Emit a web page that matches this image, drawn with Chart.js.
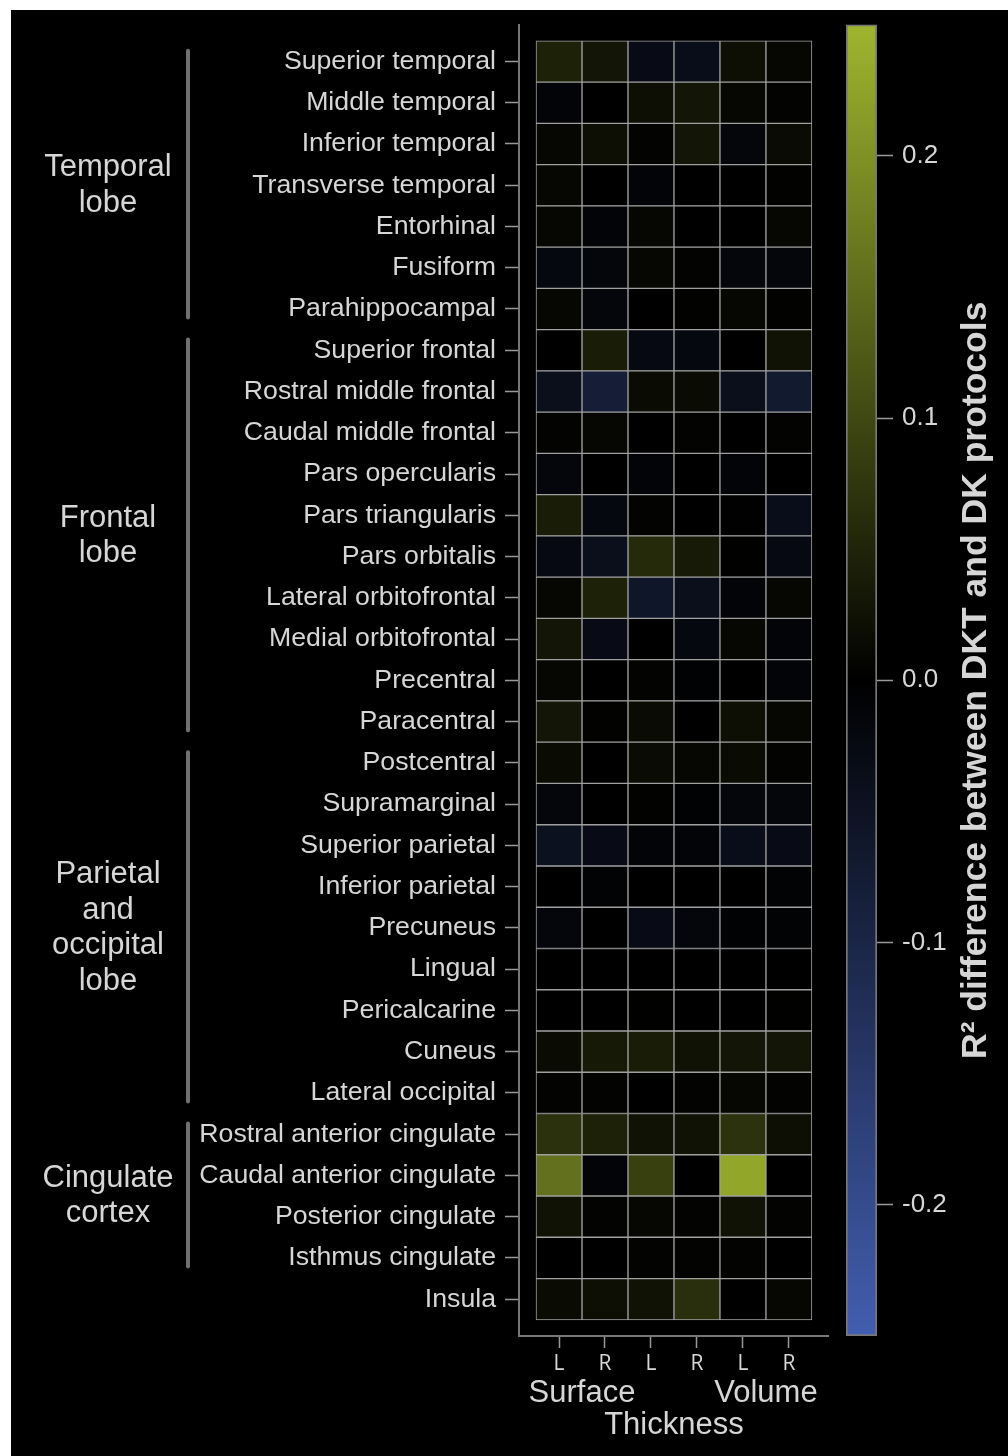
<!DOCTYPE html>
<html>
<head>
<meta charset="utf-8">
<title>R² difference between DKT and DK protocols</title>
<script src="https://cdn.jsdelivr.net/npm/chart.js@4.4.1/dist/chart.umd.min.js"></script>
<style>
  html, body { margin: 0; padding: 0; background: #fff; }
  #frame { position: absolute; left: 11px; top: 10px; width: 997px; height: 1446px; background: #000; }
  #heat { position: absolute; left: 0; top: 0; }
  #bar { position: absolute; left: 830px; top: 0; }
</style>
</head>
<body>
<div id="frame"></div>
<canvas id="heat" width="1008" height="1456"></canvas>
<canvas id="bar" width="178" height="1456"></canvas>
<script>
// Cortical regions, top to bottom
const regions = [
  'Superior temporal', 'Middle temporal', 'Inferior temporal', 'Transverse temporal',
  'Entorhinal', 'Fusiform', 'Parahippocampal',
  'Superior frontal', 'Rostral middle frontal', 'Caudal middle frontal', 'Pars opercularis',
  'Pars triangularis', 'Pars orbitalis', 'Lateral orbitofrontal', 'Medial orbitofrontal',
  'Precentral', 'Paracentral',
  'Postcentral', 'Supramarginal', 'Superior parietal', 'Inferior parietal', 'Precuneus',
  'Lingual', 'Pericalcarine', 'Cuneus', 'Lateral occipital',
  'Rostral anterior cingulate', 'Caudal anterior cingulate', 'Posterior cingulate',
  'Isthmus cingulate', 'Insula'
];

// Hemisphere columns and the measure each pair belongs to
const hemispheres = ['L', 'R', 'L', 'R', 'L', 'R'];
const measures = ['Surface', 'Thickness', 'Volume'];

// Lobe groupings (first and last region index)
const lobeNames = [['Temporal', 'lobe'], ['Frontal', 'lobe'], ['Parietal', 'and', 'occipital', 'lobe'], ['Cingulate', 'cortex']];
const lobeFirst = [0, 7, 17, 26];
const lobeLast = [6, 16, 25, 29];

// R² difference (DKT minus DK), one array per column
const surfaceL = [0.045, -0.01, 0.01, 0.01, 0.01, -0.02, 0.01, 0.0, -0.04, 0.005, -0.015, 0.04, -0.025, 0.01, 0.03, 0.01, 0.03, 0.015, -0.015, -0.045, 0.0, -0.015, 0.0, 0.0, 0.015, 0.005, 0.068, 0.155, 0.025, 0.0, 0.015];
const surfaceR = [0.03, 0.0, 0.02, 0.0, -0.01, -0.015, -0.015, 0.04, -0.078, 0.01, 0.0, -0.02, -0.04, 0.045, -0.03, 0.0, 0.003, 0.0, 0.0, -0.03, -0.007, 0.0, 0.0, 0.0, 0.035, 0.005, 0.045, -0.01, 0.005, 0.0, 0.02];
const thicknessL = [-0.03, 0.02, 0.005, -0.01, 0.01, 0.01, 0.0, -0.025, 0.015, 0.0, -0.01, 0.005, 0.058, -0.058, 0.0, 0.005, 0.015, 0.015, 0.003, -0.01, 0.0, -0.03, 0.0, 0.002, 0.04, 0.0, 0.025, 0.088, 0.01, 0.005, 0.025];
const thicknessR = [-0.035, 0.03, 0.03, 0.0, 0.0, 0.005, 0.003, -0.02, 0.015, 0.005, 0.0, 0.0, 0.036, -0.04, -0.02, -0.005, 0.0, 0.01, -0.005, -0.01, 0.0, -0.015, 0.0, 0.0, 0.025, 0.005, 0.025, 0.0, 0.005, 0.005, 0.064];
const volumeL = [0.02, 0.01, -0.015, 0.0, 0.0, -0.015, 0.01, 0.0, -0.04, 0.0, -0.01, -0.003, 0.002, -0.01, 0.01, 0.0, 0.02, 0.015, -0.015, -0.035, 0.0, -0.005, 0.0, 0.0, 0.03, 0.01, 0.069, 0.23, 0.025, 0.005, 0.0];
const volumeR = [0.01, 0.005, 0.015, 0.003, 0.01, -0.015, 0.003, 0.025, -0.068, 0.005, 0.0, -0.035, -0.025, 0.01, -0.01, -0.01, 0.01, 0.005, -0.015, -0.03, -0.007, -0.007, 0.0, 0.002, 0.03, 0.005, 0.02, 0.0, 0.005, 0.0, 0.01];

const columnValues = [surfaceL, surfaceR, thicknessL, thicknessR, volumeL, volumeR];

// Colour bar limits and ticks
const colorMin = -0.25;
const colorMax = 0.25;
const colorTicks = [0.2, 0.1, 0.0, -0.1, -0.2];

// Diverging map: blue -> black -> yellow-green
const POS_END = [159, 181, 46];
const NEG_END = [66, 94, 176];
function colorFor(v) {
  const t = Math.min(1, Math.abs(v) / colorMax);
  const e = v >= 0 ? POS_END : NEG_END;
  return 'rgb(' + Math.round(e[0] * t) + ',' + Math.round(e[1] * t) + ',' + Math.round(e[2] * t) + ')';
}

const FONT = '"Liberation Sans", Arial, Helvetica, sans-serif';
const TEXT = '#d6d6d6';
Chart.defaults.font.family = FONT;
Chart.defaults.color = TEXT;

// Lobe brackets, lobe names and measure captions
const annotations = {
  id: 'annotations',
  afterDraw(chart) {
    const { ctx, scales: { x, y }, chartArea } = chart;
    ctx.save();
    ctx.fillStyle = TEXT;
    ctx.textAlign = 'center';
    ctx.textBaseline = 'middle';
    for (let g = 0; g < lobeNames.length; g++) {
      const top = y.getPixelForValue(lobeFirst[g] - 0.5);
      const bottom = y.getPixelForValue(lobeLast[g] + 0.5);
      ctx.strokeStyle = '#707070';
      ctx.lineWidth = 4;
      ctx.lineCap = 'round';
      ctx.beginPath();
      ctx.moveTo(188, top + 10);
      ctx.lineTo(188, bottom - 12);
      ctx.stroke();
      const lines = lobeNames[g];
      const mid = (top + bottom) / 2;
      const lh = 35.7;
      ctx.font = '31px ' + FONT;
      lines.forEach((t, i) => {
        ctx.fillText(t, 108, mid + (i - (lines.length - 1) / 2) * lh);
      });
    }
    ctx.font = '31px ' + FONT;
    ctx.fillText(measures[0], x.getPixelForValue(1), chartArea.bottom + 57);
    ctx.fillText(measures[1], x.getPixelForValue(3), chartArea.bottom + 89);
    ctx.fillText(measures[2], x.getPixelForValue(5), chartArea.bottom + 57);
    ctx.restore();
  }
};

new Chart(document.getElementById('heat'), {
  type: 'bar',
  data: {
    datasets: columnValues.map((vals, c) => ({
      data: vals.map((v, r) => ({ x: [c, c + 1], y: r })),
      backgroundColor: vals.map(colorFor),
      borderColor: '#a0a0a0',
      borderWidth: 1,
      borderSkipped: false,
      barPercentage: 1,
      categoryPercentage: 1,
      grouped: false
    }))
  },
  options: {
    indexAxis: 'y',
    responsive: false,
    animation: false,
    devicePixelRatio: 1,
    layout: { padding: { left: 0, top: 25, right: 180, bottom: 0 } },
    plugins: { legend: { display: false }, tooltip: { enabled: false } },
    scales: {
      x: {
        type: 'linear',
        position: 'bottom',
        min: -0.37,
        max: 6.35,
        afterBuildTicks: s => { s.ticks = hemispheres.map((_, i) => ({ value: i + 0.5 })); },
        afterFit: s => { s.height = 120; },
        ticks: {
          callback: (v, i) => hemispheres[i],
          color: TEXT,
          font: { family: '"Open Sans", ' + FONT, size: 21 },
          padding: 3,
          autoSkip: false,
          maxRotation: 0
        },
        grid: { offset: false, drawOnChartArea: false, tickLength: 12, tickColor: '#999', tickWidth: 1.5 },
        border: { display: true, color: '#777', width: 2 }
      },
      y: {
        type: 'linear',
        reverse: true,
        min: -0.37,
        max: 30.38,
        afterBuildTicks: s => { s.ticks = regions.map((_, i) => ({ value: i })); },
        afterFit: s => { s.width = 519; },
        ticks: {
          callback: (v, i) => regions[i],
          color: TEXT,
          font: { size: 26.7 },
          padding: 9,
          autoSkip: false
        },
        grid: { offset: false, drawOnChartArea: false, tickLength: 14, tickColor: '#999', tickWidth: 1.5 },
        border: { display: true, color: '#777', width: 2 }
      }
    }
  },
  plugins: [annotations]
});

// Colour bar
function barGradient(chart) {
  const { ctx, chartArea, scales } = chart;
  const y = scales && scales.y;
  if (!chartArea || !y) return 'rgba(0,0,0,0)';
  const y0 = y.getPixelForValue(colorMin);
  const y1 = y.getPixelForValue(colorMax);
  if (!isFinite(y0) || !isFinite(y1)) return 'rgba(0,0,0,0)';
  const g = ctx.createLinearGradient(0, y0, 0, y1);
  g.addColorStop(0, colorFor(colorMin));
  g.addColorStop(0.5, colorFor(0));
  g.addColorStop(1, colorFor(colorMax));
  return g;
}

const barTitle = {
  id: 'barTitle',
  afterDraw(chart) {
    const { ctx, chartArea } = chart;
    ctx.save();
    ctx.translate(146, (chartArea.top + chartArea.bottom) / 2);
    ctx.rotate(-Math.PI / 2);
    ctx.fillStyle = TEXT;
    ctx.font = 'bold 35.5px ' + FONT;
    ctx.textAlign = 'center';
    ctx.textBaseline = 'middle';
    ctx.fillText('R² difference between DKT and DK protocols', 0, 0);
    ctx.restore();
  }
};

new Chart(document.getElementById('bar'), {
  type: 'bar',
  data: {
    labels: [''],
    datasets: [{
      data: [[colorMin, colorMax]],
      backgroundColor: ctx => barGradient(ctx.chart),
      borderColor: '#777',
      borderWidth: 2,
      borderSkipped: false,
      barPercentage: 1,
      categoryPercentage: 1
    }]
  },
  options: {
    responsive: false,
    animation: false,
    devicePixelRatio: 1,
    layout: { padding: { left: 16, top: 24, right: 0, bottom: 120 } },
    plugins: { legend: { display: false }, tooltip: { enabled: false } },
    scales: {
      x: { display: false },
      y: {
        position: 'right',
        min: colorMin,
        max: colorMax,
        afterBuildTicks: s => { s.ticks = colorTicks.map(v => ({ value: v })); },
        afterFit: s => { s.width = 131; },
        ticks: {
          callback: v => v.toFixed(1),
          color: TEXT,
          font: { size: 26 },
          padding: 9
        },
        grid: { drawOnChartArea: false, tickLength: 16, tickColor: '#999', tickWidth: 1.5 },
        border: { display: false }
      }
    }
  },
  plugins: [barTitle]
});
</script>
</body>
</html>
